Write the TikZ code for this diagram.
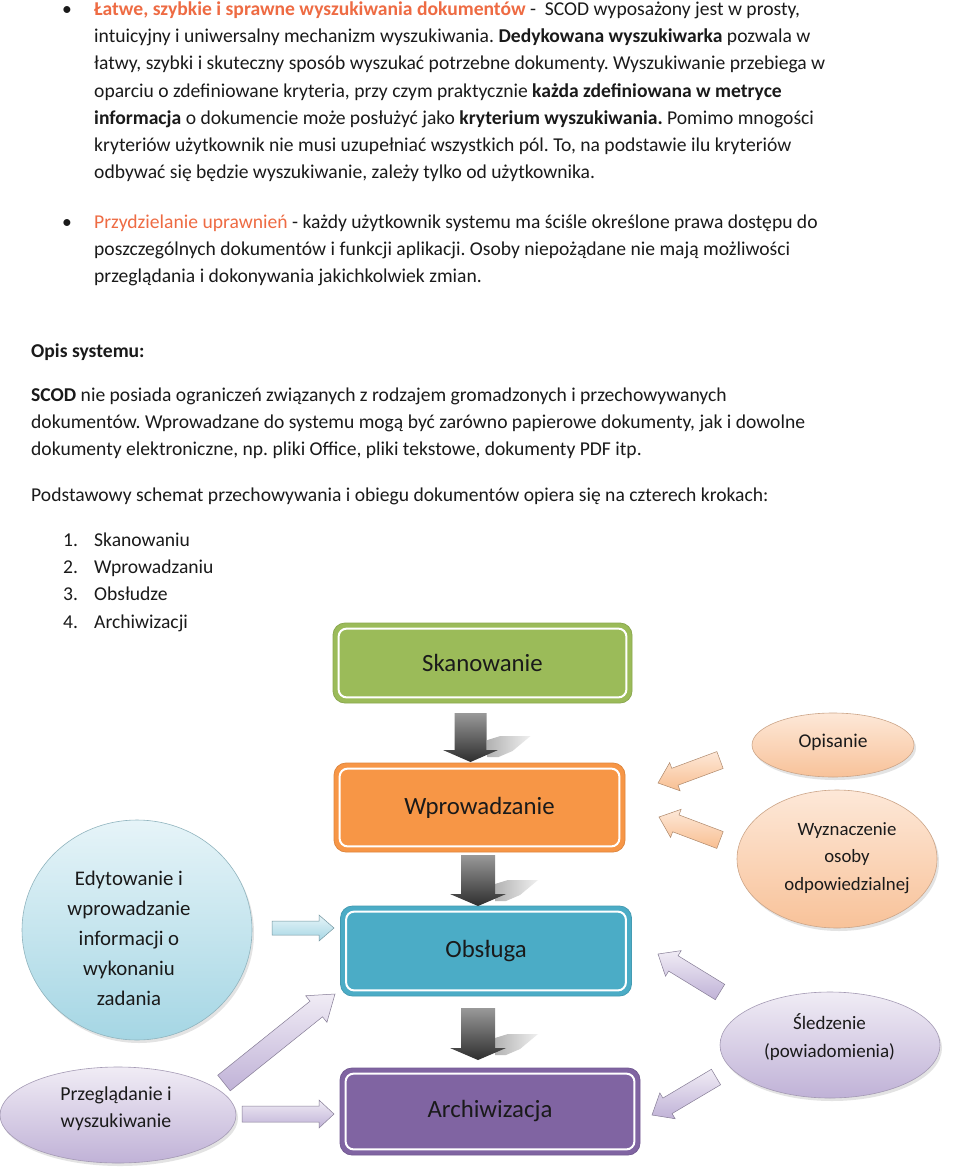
\documentclass[tikz,border=0pt]{standalone}
\usepackage{fontspec}
\setmainfont{Carlito}
\frenchspacing
\usetikzlibrary{calc,shapes.geometric,shadows}
\definecolor{orng}{HTML}{EE6B43}
\definecolor{cgreen}{HTML}{9BBB59}
\definecolor{corange}{HTML}{F79646}
\definecolor{cteal}{HTML}{4BACC6}
\definecolor{cpurple}{HTML}{8064A2}
\definecolor{peachL}{HTML}{FDE8D8}
\definecolor{peachD}{HTML}{F8C299}
\definecolor{blueL}{HTML}{E6F4F8}
\definecolor{blueD}{HTML}{A5D6E4}
\definecolor{lilacL}{HTML}{F0ECF5}
\definecolor{lilacD}{HTML}{C0B2D7}
\definecolor{txt}{HTML}{1A1A1A}

\newcommand{\bodyfont}{\fontsize{19.6}{23}\selectfont}
\newcommand{\boxfont}{\fontsize{24.8}{30}\selectfont}

% block arrow: #1 style, #2 tail, #3 tip, #4 shaft half width, #5 head half width, #6 head length
\newcommand{\blockarr}[6]{%
  \coordinate (hb) at ($(#3)!#6!(#2)$);
  \path[#1] ($(#2)!#4!90:(#3)$) -- ($(hb)!#4!90:(#3)$) -- ($(hb)!#5!90:(#3)$) -- (#3)
    -- ($(hb)!#5!-90:(#3)$) -- ($(hb)!#4!-90:(#3)$) -- ($(#2)!#4!-90:(#3)$) -- cycle;}

% light shadow beside the grey arrows
\newcommand{\arrshadow}[1]{%
  \path[shade, left color=black!30, right color=black!6]
    ($(#1)+(17,-22)$) -- ($(#1)+(30,-26)$) -- ($(#1)+(60,-26)$) -- ($(#1)+(42,-11)$)
    -- ($(#1)+(28,-5)$) -- ($(#1)+(17,-5)$) -- cycle;}

\newcommand{\innerline}[1]{%
  \draw[white, line width=2pt, rounded corners=8pt]
    ([shift={(6pt,-6pt)}]#1.north west) rectangle ([shift={(-6pt,6pt)}]#1.south east);}

\tikzset{
  tline/.style={anchor=base west, inner sep=0pt, font=\bodyfont, text=txt},
  stepbox/.style={rounded corners=12pt, fill=#1, draw=#1!90!black, line width=0.8pt,
    font=\boxfont, text=txt, inner sep=0pt},
  ellbase/.style={ellipse, inner sep=0pt, line width=0.6pt,
    drop shadow={opacity=0.22, shadow xshift=2pt, shadow yshift=-3pt}},
  ellP/.style={ellbase, draw=peachD!80!black!90, top color=peachL, bottom color=peachD},
  ellB/.style={ellbase, draw=blueD!80!black!90, top color=blueL, bottom color=blueD},
  ellL/.style={ellbase, draw=lilacD!80!black!90, top color=lilacL, bottom color=lilacD},
  etext/.style={align=center, inner sep=0pt, text=txt},
  arrG/.style={shade, top color=black!40, bottom color=black!82},
  arrO/.style={shade, top color=peachL, bottom color=peachD!95!orange, draw=peachD!70!black, line width=0.5pt},
  arrB/.style={shade, top color=blueL, bottom color=blueD, draw=blueD!70!black, line width=0.5pt},
  arrL/.style={shade, top color=lilacL, bottom color=lilacD, draw=lilacD!70!black, line width=0.5pt},
}

\begin{document}
\begin{tikzpicture}[x=1pt, y=-1pt]
\useasboundingbox (0,0) rectangle (960,1172);
\fill[white] (0,0) rectangle (960,1172);

% ---------- bullet 1 ----------
\node[tline] (b1) at (62,15.5) {•};
\node[tline] (l1) at (94,15.5) {{\bfseries\color{orng}Łatwe, szybkie i sprawne wyszukiwania dokumentów} -\ \ SCOD wyposażony jest w prosty,};
\node[tline] (l2) at (94,42.7) {intuicyjny i uniwersalny mechanizm wyszukiwania. \textbf{Dedykowana wyszukiwarka} pozwala w};
\node[tline] (l3) at (94,69.9) {łatwy, szybki i skuteczny sposób wyszukać potrzebne dokumenty. Wyszukiwanie przebiega w};
\node[tline] (l4) at (94,97.1) {oparciu o zdefiniowane kryteria, przy czym praktycznie \textbf{każda zdefiniowana w metryce}};
\node[tline] (l5) at (94,124.3) {\textbf{informacja} o dokumencie może posłużyć jako \textbf{kryterium wyszukiwania.} Pomimo mnogości};
\node[tline] (l6) at (94,151.5) {kryteriów użytkownik nie musi uzupełniać wszystkich pól. To, na podstawie ilu kryteriów};
\node[tline] (l7) at (94,178.7) {odbywać się będzie wyszukiwanie, zależy tylko od użytkownika.};

% ---------- bullet 2 ----------
\node[tline] (b2) at (62,228.5) {•};
\node[tline] (l8) at (94,228.5) {{\color{orng}Przydzielanie uprawnień} - każdy użytkownik systemu ma ściśle określone prawa dostępu do};
\node[tline] (l9) at (94,255.7) {poszczególnych dokumentów i funkcji aplikacji. Osoby niepożądane nie mają możliwości};
\node[tline] (l10) at (94,282.9) {przeglądania i dokonywania jakichkolwiek zmian.};

% ---------- description ----------
\node[tline] (opis) at (31,357) {\textbf{Opis systemu:}};
\node[tline] (s1) at (31,401.5) {\textbf{SCOD} nie posiada ograniczeń związanych z rodzajem gromadzonych i przechowywanych};
\node[tline] (s2) at (31,428.7) {dokumentów. Wprowadzane do systemu mogą być zarówno papierowe dokumenty, jak i dowolne};
\node[tline] (s3) at (31,455.9) {dokumenty elektroniczne, np. pliki Office, pliki tekstowe, dokumenty PDF itp.};
\node[tline] (s4) at (31,501.5) {Podstawowy schemat przechowywania i obiegu dokumentów opiera się na czterech krokach:};

\node[tline] (n1) at (63,546.5) {1.};
\node[tline] (k1) at (94,546.5) {Skanowaniu};
\node[tline] (n2) at (63,573.7) {2.};
\node[tline] (k2) at (94,573.7) {Wprowadzaniu};
\node[tline] (n3) at (63,600.9) {3.};
\node[tline] (k3) at (94,600.9) {Obsłudze};
\node[tline] (n4) at (63,628.1) {4.};
\node[tline] (k4) at (94,628.1) {Archiwizacji};

% ---------- diagram: main boxes ----------
\node[stepbox=cgreen, minimum width=299, minimum height=80] (sk) at (482.5,663) {Skanowanie};
\innerline{sk}
\node[stepbox=corange, minimum width=291, minimum height=89] (wp) at (479.5,807.5) {Wprowadzanie};
\innerline{wp}
\node[stepbox=cteal, minimum width=291, minimum height=90] (ob) at (486,951) {Obsługa};
\innerline{ob}
\node[stepbox=cpurple, minimum width=300, minimum height=87] (ar) at (490,1111.5) {Archiwizacja};
\innerline{ar}

% ---------- side ellipses ----------
\node[ellP, minimum width=162, minimum height=64] (op) at (833,745) {};
\node[etext, font=\fontsize{19.5}{24}\selectfont] (opT) at (833,742) {Opisanie};

\node[ellP, minimum width=200, minimum height=138] (wy) at (837,859) {};
\node[etext, font=\fontsize{18.8}{27.5}\selectfont] (wyT) at (847,858) {Wyznaczenie\\osoby\\odpowiedzialnej};

\node[ellB, minimum width=230, minimum height=220] (ed) at (137,930) {};
\node[etext, font=\fontsize{20.8}{30}\selectfont] (edT) at (129,938) {Edytowanie i\\wprowadzanie\\informacji o\\wykonaniu\\zadania};

\node[ellL, minimum width=220, minimum height=106] (sl) at (830,1045) {};
\node[etext, font=\fontsize{19}{28}\selectfont] (slT) at (829.5,1037) {Śledzenie\\(powiadomienia)};

\node[ellL, minimum width=236, minimum height=96] (pr) at (118,1115) {};
\node[etext, font=\fontsize{19.8}{27}\selectfont] (prT) at (116,1109) {Przeglądanie i\\wyszukiwanie};

% ---------- grey step arrows ----------
\coordinate (g1t) at (470.5,713);  \coordinate (g1p) at (470.5,762);
\coordinate (g2t) at (478,855);    \coordinate (g2p) at (478,906);
\coordinate (g3t) at (478,1008);   \coordinate (g3p) at (478,1060);
\arrshadow{g1p}
\arrshadow{g2p}
\arrshadow{g3p}
\blockarr{arrG}{g1t}{g1p}{16pt}{27.5pt}{12pt}
\blockarr{arrG}{g2t}{g2p}{17pt}{28pt}{12pt}
\blockarr{arrG}{g3t}{g3p}{17pt}{28pt}{12pt}

% ---------- side arrows ----------
\coordinate (o1t) at (720,760);  \coordinate (o1p) at (658,783);
\coordinate (o2t) at (720,840);  \coordinate (o2p) at (659,817);
\coordinate (bbt) at (272,928);  \coordinate (bbp) at (334,928);
\coordinate (p1t) at (720,992);  \coordinate (p1p) at (658,954);
\coordinate (p2t) at (716,1077); \coordinate (p2p) at (652,1115);
\coordinate (p3t) at (224,1083); \coordinate (p3p) at (335,994);
\coordinate (p4t) at (242,1114); \coordinate (p4p) at (334,1114);

\blockarr{arrO}{o1t}{o1p}{9pt}{15pt}{18pt}
\blockarr{arrO}{o2t}{o2p}{9pt}{15pt}{18pt}
\blockarr{arrB}{bbt}{bbp}{7pt}{13pt}{15pt}
\blockarr{arrL}{p1t}{p1p}{9pt}{15pt}{18pt}
\blockarr{arrL}{p2t}{p2p}{9pt}{15pt}{18pt}
\blockarr{arrL}{p3t}{p3p}{10pt}{17pt}{24pt}
\blockarr{arrL}{p4t}{p4p}{8pt}{14pt}{15pt}
\end{tikzpicture}
\end{document}
